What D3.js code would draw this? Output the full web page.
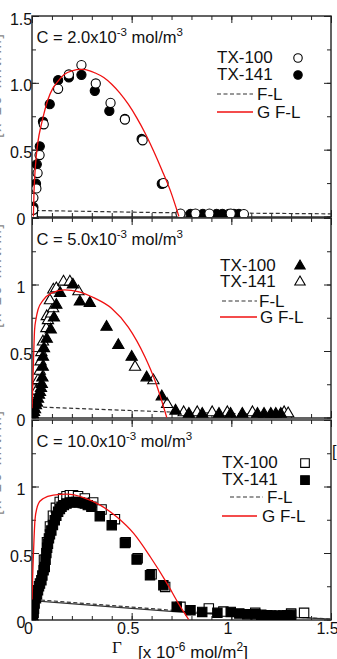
<!DOCTYPE html>
<html>
<head>
<meta charset="utf-8">
<script src="https://cdn.jsdelivr.net/npm/d3@7"></script>
<style>
  body { margin: 0; background: #fff; }
  svg { display: block; font-family: "Liberation Sans", Arial, Helvetica, sans-serif; }
</style>
</head>
<body>
<svg id="chart" width="337" height="659"></svg>
<script>
// ---- data ----
var concLabels = ["2.0", "5.0", "10.0"];
var xTickValues = [0, 0.5, 1, 1.5];
var xTickLabels = ["0", "0.5", "1", "1.5"];
var yTickValues = [0, 0.5, 1, 1.5];
var yTickLabels1 = ["0", "0.5", "1.0", "1.5"];
var yTickLabels23 = ["0", "0.5", "1", ""];

// panel 1, C = 2.0e-3
var p1Tx100 = [[0.004,0.01],[0.006,0.05],[0.007,0.14],[0.022,0.21],[0.028,0.325],[0.038,0.46],[0.059,0.69],[0.131,0.955],
  [0.185,1.063],[0.248,1.133],[0.32,0.995],[0.394,0.85],[0.466,0.725],[0.555,0.57],[0.66,0.25],
  [0.745,0.022],[0.82,0.022],[0.89,0.022],[0.997,0.022],[1.063,0.018]];
var p1Tx141 = [[0.004,0.0],[0.005,0.03],[0.007,0.07],[0.02,0.245],[0.024,0.39],[0.039,0.525],[0.055,0.71],[0.089,0.84],
  [0.131,1.02],[0.185,1.04],[0.248,1.06],[0.315,0.94],[0.388,0.79],[0.466,0.73],[0.55,0.58],[0.651,0.245],
  [0.795,0.02],[0.857,0.02],[0.926,0.02],[0.955,0.02],[0.988,0.02],[1.013,0.02],[1.038,0.02]];
var p1FL = [[0.008,0],[0.015,0.045],[0.6,0.03],[1.5,0.02]];
var p1GFL = [[0.007,0],[0.01,0.18],[0.015,0.33],[0.022,0.46],[0.03,0.56],[0.047,0.69],[0.06,0.77],[0.08,0.875],
  [0.105,0.96],[0.131,1.013],[0.16,1.06],[0.2,1.09],[0.248,1.1],[0.29,1.09],[0.315,1.075],[0.36,1.04],[0.4,0.99],
  [0.44,0.925],[0.483,0.84],[0.525,0.74],[0.567,0.625],[0.61,0.49],[0.651,0.35],[0.695,0.19],[0.737,0]];

// panel 2, C = 5.0e-3
var p2Tx100 = [[0.003,0.0],[0.006,0.02],[0.01,0.04],[0.015,0.06],[0.02,0.09],[0.025,0.11],[0.03,0.14],[0.035,0.17],
  [0.04,0.19],[0.045,0.22],[0.049,0.25],[0.052,0.3],[0.054,0.38],[0.055,0.455],[0.06,0.52],[0.074,0.59],
  [0.094,0.66],[0.11,0.75],[0.122,0.846],[0.141,0.935],[0.205,0.998],[0.24,0.87],[0.29,0.86],[0.374,0.68],
  [0.433,0.543],[0.5,0.455],[0.575,0.3],[0.651,0.157],[0.72,0.05],[0.787,0.026],[0.854,0.026],[0.938,0.026],
  [0.996,0.026],[1.055,0.026],[1.131,0.026],[1.164,0.026],[1.198,0.026],[1.223,0.026],[1.248,0.026]];
var p2Tx141 = [[0.002,0.02],[0.005,0.05],[0.01,0.1],[0.018,0.16],[0.022,0.2],[0.03,0.28],[0.039,0.35],[0.043,0.42],
  [0.047,0.49],[0.055,0.57],[0.072,0.67],[0.074,0.76],[0.08,0.73],[0.097,0.78],[0.106,0.82],[0.09,0.88],
  [0.107,0.96],[0.122,0.97],[0.158,1.02],[0.19,1.02],[0.233,0.947],[0.517,0.38],[0.609,0.278],[0.678,0.1],
  [0.761,0.038],[0.829,0.038],[0.904,0.038],[0.98,0.038],[1.106,0.038],[1.265,0.038],[1.285,0.03]];
var p2FL = [[0.004,0],[0.012,0.08],[0.72,0.04],[1.3,0.02]];
var p2GFL = [[0.0,0.07],[0.006,0.35],[0.013,0.66],[0.02,0.74],[0.03,0.81],[0.055,0.88],[0.097,0.935],[0.164,0.96],
  [0.231,0.947],[0.315,0.897],[0.4,0.82],[0.483,0.68],[0.567,0.455],[0.617,0.278],[0.676,0]];

// panel 3, C = 10.0e-3
var p3Tx100 = [[0.06,0.45],[0.075,0.58],[0.09,0.7],[0.105,0.78],[0.12,0.84],[0.139,0.884],[0.156,0.91],[0.173,0.927],
  [0.19,0.935],[0.206,0.935],[0.231,0.927],[0.265,0.91],[0.307,0.88],[0.349,0.827],[0.416,0.754],[0.47,0.58],
  [0.53,0.46],[0.6,0.34],[0.668,0.245],[0.745,0.095],[0.887,0.083],[0.96,0.06],[1.12,0.05],[1.3,0.045],[1.365,0.05]];
var p3Tx141 = [[0.003,0.0],[0.005,0.02],[0.008,0.05],[0.01,0.08],[0.013,0.12],[0.02,0.16],[0.025,0.19],[0.03,0.22],
  [0.035,0.25],[0.04,0.27],[0.047,0.295],[0.052,0.33],[0.058,0.37],[0.064,0.395],[0.068,0.45],[0.072,0.5],
  [0.076,0.54],[0.08,0.57],[0.085,0.61],[0.09,0.64],[0.097,0.67],[0.105,0.71],[0.114,0.747],[0.122,0.78],
  [0.131,0.81],[0.14,0.83],[0.148,0.847],[0.16,0.86],[0.173,0.872],[0.19,0.88],[0.206,0.884],[0.222,0.884],
  [0.24,0.88],[0.255,0.876],[0.265,0.872],[0.28,0.86],[0.298,0.847],[0.34,0.777],[0.4,0.709],[0.466,0.576],
  [0.525,0.451],[0.592,0.333],[0.659,0.258],[0.726,0.095],[0.795,0.07],[0.854,0.057],[0.93,0.05],[0.997,0.057],
  [1.04,0.045],[1.08,0.04],[1.12,0.04],[1.15,0.035],[1.18,0.032],[1.2,0.03],[1.22,0.028],[1.24,0.028],
  [1.26,0.03],[1.28,0.032],[1.3,0.035]];
var p3FL = [[0.004,0],[0.015,0.15],[0.4,0.105],[0.78,0.06],[1.1,0.03],[1.4,0.012],[1.5,0.003]];
var p3Solid = [[0.006,0],[0.017,0.14],[0.4,0.095],[0.78,0.052],[1.1,0.025],[1.4,0.01],[1.5,0.003]];
var p3GFL = [[0.0,0.15],[0.005,0.4],[0.01,0.6],[0.015,0.75],[0.025,0.84],[0.032,0.87],[0.057,0.91],[0.107,0.935],
  [0.174,0.942],[0.258,0.917],[0.342,0.86],[0.426,0.77],[0.51,0.647],[0.594,0.47],[0.678,0.27],[0.735,0.12],[0.786,0]];

// ---- layout ----
var left = 32, right = 331;
var svg = d3.select("#chart");
var x = d3.scaleLinear().domain([0, 1.5]).range([left, right]);

var panels = [
  { top: 16, bottom: 217, conc: concLabels[0], ylab: yTickLabels1, labY: 86,
    series: [{ name: "TX-100", data: p1Tx100, sym: d3.symbolCircle, size: 66, filled: false },
             { name: "TX-141", data: p1Tx141, sym: d3.symbolCircle, size: 66, filled: true }],
    order: [1, 0], fl: p1FL, gfl: p1GFL, solid: null,
    leg: { x: 217, sx: 298, rows: [63, 80, 100, 118], lx0: 217, lx1: 253, tx: 257, gx0: 217, gx1: 253, gtx: 257 } },
  { top: 218, bottom: 418, conc: concLabels[1], ylab: yTickLabels23, labY: 276,
    series: [{ name: "TX-100", data: p2Tx100, sym: d3.symbolTriangle, size: 55, filled: true },
             { name: "TX-141", data: p2Tx141, sym: d3.symbolTriangle, size: 55, filled: false }],
    order: [1, 0], fl: p2FL, gfl: p2GFL, solid: null,
    leg: { x: 220, sx: 300, rows: [271, 287, 307, 323], lx0: 222, lx1: 257, tx: 259, gx0: 220, gx1: 257, gtx: 260 } },
  { top: 420, bottom: 620, conc: concLabels[2], ylab: yTickLabels23, labY: 463,
    series: [{ name: "TX-100", data: p3Tx100, sym: d3.symbolSquare, size: 88, filled: false },
             { name: "TX-141", data: p3Tx141, sym: d3.symbolSquare, size: 88, filled: true }],
    order: [0, 1], fl: p3FL, gfl: p3GFL, solid: p3Solid,
    leg: { x: 222, sx: 305, rows: [468, 485, 503, 522], lx0: 230, lx1: 263, tx: 267, gx0: 222, gx1: 257, gtx: 262 } }
];

panels.forEach(function(p, pi) {
  var y = d3.scaleLinear().domain([0, 1.5]).range([p.bottom - 0.5, p.top]);
  var g = svg.append("g");

  g.append("clipPath").attr("id", "clip" + pi)
    .append("rect").attr("x", left).attr("y", p.top).attr("width", right - left).attr("height", p.bottom - p.top);

  // ticks, all pointing inward
  var minorX = d3.range(0, 1.501, 0.1), minorY = d3.range(0, 1.501, 0.25);
  function ticks(axis, vals, size, tr) {
    var a = g.append("g").attr("transform", tr)
      .call(axis.tickValues(vals).tickSize(size).tickFormat(""));
    a.select(".domain").remove();
    a.selectAll("line").attr("stroke", "#222").attr("stroke-width", 1);
    return a;
  }
  ticks(d3.axisBottom(x), minorX, -4, "translate(0," + p.bottom + ")");
  ticks(d3.axisBottom(x), xTickValues, -7, "translate(0," + p.bottom + ")");
  ticks(d3.axisTop(x), minorX, -4, "translate(0," + p.top + ")");
  ticks(d3.axisTop(x), xTickValues, -7, "translate(0," + p.top + ")");
  ticks(d3.axisLeft(y), minorY, -4, "translate(" + left + ",0)");
  ticks(d3.axisLeft(y), yTickValues, -7, "translate(" + left + ",0)");
  ticks(d3.axisRight(y), minorY, -4, "translate(" + right + ",0)");
  ticks(d3.axisRight(y), yTickValues, -7, "translate(" + right + ",0)");

  // y tick labels
  var yl = g.append("g").attr("transform", "translate(" + left + ",0)")
    .call(d3.axisLeft(y).tickValues(yTickValues).tickSize(0).tickPadding(11)
      .tickFormat(function(d, i) { return p.ylab[i]; }));
  yl.select(".domain").remove();
  yl.selectAll("text").attr("text-anchor", "middle").attr("dy", "0.5em")
    .attr("font-size", 16).attr("font-family", "Liberation Sans, Arial, sans-serif").attr("fill", "#111");

  // frame
  g.append("rect").attr("x", left).attr("y", p.top).attr("width", right - left).attr("height", p.bottom - p.top)
    .attr("fill", "none").attr("stroke", "#222").attr("stroke-width", 1.4);

  var plot = g.append("g").attr("clip-path", "url(#clip" + pi + ")");
  var line = d3.line().x(function(d) { return x(d[0]); }).y(function(d) { return y(d[1]); });

  plot.append("path").datum(p.fl).attr("d", line).attr("fill", "none")
    .attr("stroke", "#333").attr("stroke-width", 1.2).attr("stroke-dasharray", "4,2.5");
  if (p.solid) {
    plot.append("path").datum(p.solid).attr("d", line).attr("fill", "none")
      .attr("stroke", "#333").attr("stroke-width", 1.1);
  }

  // markers
  p.order.forEach(function(si) {
    var s = p.series[si];
    plot.append("g").selectAll("path").data(s.data).enter().append("path")
      .attr("d", d3.symbol().type(s.sym).size(s.size))
      .attr("transform", function(d) { return "translate(" + x(d[0]) + "," + y(d[1]) + ")"; })
      .attr("fill", s.filled ? "#000" : "#fff")
      .attr("stroke", "#000").attr("stroke-width", 1.1);
  });

  plot.append("path").datum(p.gfl)
    .attr("d", line.curve(d3.curveMonotoneX)).attr("fill", "none")
    .attr("stroke", "#f01010").attr("stroke-width", 1.3);

  // concentration title
  var t = g.append("text").attr("x", 36.5).attr("y", p.top + 27).attr("font-size", 16.5).attr("fill", "#111");
  t.append("tspan").text("C = " + p.conc + "x10");
  t.append("tspan").attr("dy", -7).attr("font-size", 11.5).text("-3");
  t.append("tspan").attr("dy", 7).text(" mol/m");
  t.append("tspan").attr("dy", -7).attr("font-size", 11.5).text("3");

  // legend
  var L = p.leg;
  p.series.forEach(function(s, i) {
    g.append("text").attr("x", L.x).attr("y", L.rows[i]).attr("font-size", 17).attr("fill", "#111").text(s.name);
    g.append("path").attr("d", d3.symbol().type(s.sym).size(s.size * 0.85))
      .attr("transform", "translate(" + L.sx + "," + (L.rows[i] - 5) + ")")
      .attr("fill", s.filled ? "#000" : "#fff").attr("stroke", "#000").attr("stroke-width", 1.1);
  });
  g.append("line").attr("x1", L.lx0).attr("x2", L.lx1).attr("y1", L.rows[2] - 6).attr("y2", L.rows[2] - 6)
    .attr("stroke", "#333").attr("stroke-width", 1.2).attr("stroke-dasharray", "4,2.5");
  g.append("text").attr("x", L.tx).attr("y", L.rows[2]).attr("font-size", 17).attr("fill", "#111").text("F-L");
  g.append("line").attr("x1", L.gx0).attr("x2", L.gx1).attr("y1", L.rows[3] - 6).attr("y2", L.rows[3] - 6)
    .attr("stroke", "#f01010").attr("stroke-width", 1.3);
  g.append("text").attr("x", L.gtx).attr("y", L.rows[3]).attr("font-size", 17).attr("fill", "#111").text("G F-L");

  // y axis title, almost entirely cut off at the left edge of the picture
  svg.append("text").attr("transform", "translate(0.5," + p.labY + ") rotate(-90)")
    .attr("text-anchor", "middle").attr("font-size", 16).attr("fill", "#888")
    .attr("textLength", 104).attr("lengthAdjust", "spacing")
    .text("[x 10 mN/m]");
});

// x tick labels on the bottom panel
var last = panels[2];
var xl = svg.append("g").attr("transform", "translate(-4," + last.bottom + ")")
  .call(d3.axisBottom(x).tickValues(xTickValues).tickSize(0).tickPadding(3)
    .tickFormat(function(d, i) { return xTickLabels[i]; }));
xl.select(".domain").remove();
xl.selectAll("text").attr("font-size", 16).attr("font-family", "Liberation Sans, Arial, sans-serif").attr("fill", "#111");

// x axis title
svg.append("text").attr("x", 112).attr("y", 653).attr("font-size", 17)
  .attr("font-family", "Liberation Serif, Times New Roman, serif").attr("fill", "#111").text("\u0393");
var xt = svg.append("text").attr("x", 138).attr("y", 658).attr("font-size", 17).attr("fill", "#111");
xt.append("tspan").text("[x 10");
xt.append("tspan").attr("dy", -7).attr("font-size", 12).text("-6");
xt.append("tspan").attr("dy", 7).text(" mol/m");
xt.append("tspan").attr("dy", -7).attr("font-size", 12).text("2");
xt.append("tspan").attr("dy", 7).text("]");

// bracket from the neighbouring figure at the right edge
svg.append("text").attr("x", 332).attr("y", 457).attr("font-size", 16).attr("fill", "#111").text("[");
</script>
</body>
</html>
